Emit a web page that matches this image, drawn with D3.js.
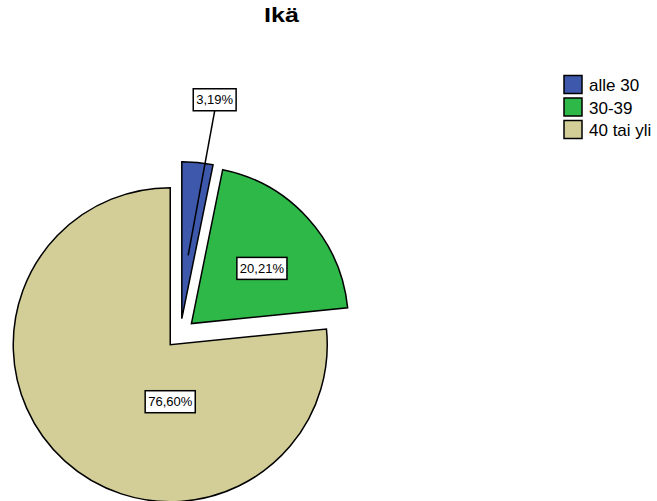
<!DOCTYPE html>
<html>
<head>
<meta charset="utf-8">
<script src="https://cdn.jsdelivr.net/npm/d3@7"></script>
<style>
  html, body { margin: 0; padding: 0; background: #fff; }
  svg { display: block; }
  text { font-family: "Liberation Sans", Arial, sans-serif; }
</style>
</head>
<body>
<svg id="chart" width="657" height="501"></svg>
<script>
// Age distribution of respondents (percent)
const categories = ["alle 30", "30-39", "40 tai yli"];
const percents = [3.19, 20.21, 76.60];
const colors = ["#3e58ac", "#2eb848", "#d3ce97"];
const titleText = "Ikä";

// Label placement relative to each exploded slice: angle shift from the
// slice mid-angle (degrees) and distance from the slice vertex (as share of radius).
const labelShift = [2.8, 4.1, -42.1];
const labelDist = [1.41, 0.57, 0.363];
const leaderDist = [0.405, null, null];

const W = 657, H = 501;
const cx = 180.3, cy = 333.6, R = 157, explode = 15;

const svg = d3.select("#chart");
svg.append("rect").attr("width", W).attr("height", H).attr("fill", "#fff");

// Title
svg.append("text")
  .attr("x", 281.5).attr("y", 22)
  .attr("text-anchor", "middle")
  .attr("font-size", 20).attr("font-weight", "bold")
  .attr("textLength", 35).attr("lengthAdjust", "spacingAndGlyphs")
  .text(titleText);

const pie = d3.pie().sort(null).value(d => d)
  .startAngle(0).endAngle(2 * Math.PI);
const arcs = pie(percents);
const arc = d3.arc().innerRadius(0).outerRadius(R);

const polar = (a, r) => [r * Math.sin(a), -r * Math.cos(a)];
const fmt = v => d3.format(".2f")(v).replace(".", ",") + "%";

const g = svg.append("g").attr("transform", `translate(${cx},${cy})`);

const slices = g.selectAll("g.slice").data(arcs).enter().append("g")
  .attr("class", "slice")
  .attr("transform", d => {
    const mid = (d.startAngle + d.endAngle) / 2;
    const [dx, dy] = polar(mid, explode);
    return `translate(${dx},${dy})`;
  });

slices.append("path")
  .attr("d", arc)
  .attr("fill", (d, i) => colors[i])
  .attr("stroke", "#000")
  .attr("stroke-width", 1.5)
  .attr("stroke-linejoin", "miter");

// Value labels in boxed text
slices.each(function(d, i) {
  const sel = d3.select(this);
  const mid = (d.startAngle + d.endAngle) / 2;
  const la = mid + labelShift[i] * Math.PI / 180;
  const [lx, ly] = polar(la, labelDist[i] * R);
  const boxH = 22;
  const lbl = sel.append("g");
  const t = lbl.append("text")
    .attr("x", lx).attr("y", ly + 4.5)
    .attr("text-anchor", "middle")
    .attr("font-size", 13)
    .attr("fill", "#000")
    .text(fmt(percents[i]));
  const bw = t.node().getComputedTextLength() + 6;
  lbl.insert("rect", "text")
    .attr("x", lx - bw / 2).attr("y", ly - boxH / 2)
    .attr("width", bw).attr("height", boxH)
    .attr("fill", "#fff").attr("stroke", "#000").attr("stroke-width", 1.5);
  if (leaderDist[i] != null) {
    const [ex, ey] = polar(mid, leaderDist[i] * R);
    sel.insert("line", "g")
      .attr("x1", lx).attr("y1", ly + boxH / 2)
      .attr("x2", ex).attr("y2", ey)
      .attr("stroke", "#000").attr("stroke-width", 1.5);
  }
});

// Legend
const legend = svg.append("g").attr("transform", "translate(564,75.5)");
const item = legend.selectAll("g").data(categories).enter().append("g")
  .attr("transform", (d, i) => `translate(0,${i * 22.5})`);
item.append("rect")
  .attr("width", 18).attr("height", 18)
  .attr("fill", (d, i) => colors[i])
  .attr("stroke", "#000").attr("stroke-width", 1.5);
item.append("text")
  .attr("x", 25).attr("y", 15.5)
  .attr("font-size", 17)
  .attr("fill", "#000")
  .text(d => d);
</script>
</body>
</html>
